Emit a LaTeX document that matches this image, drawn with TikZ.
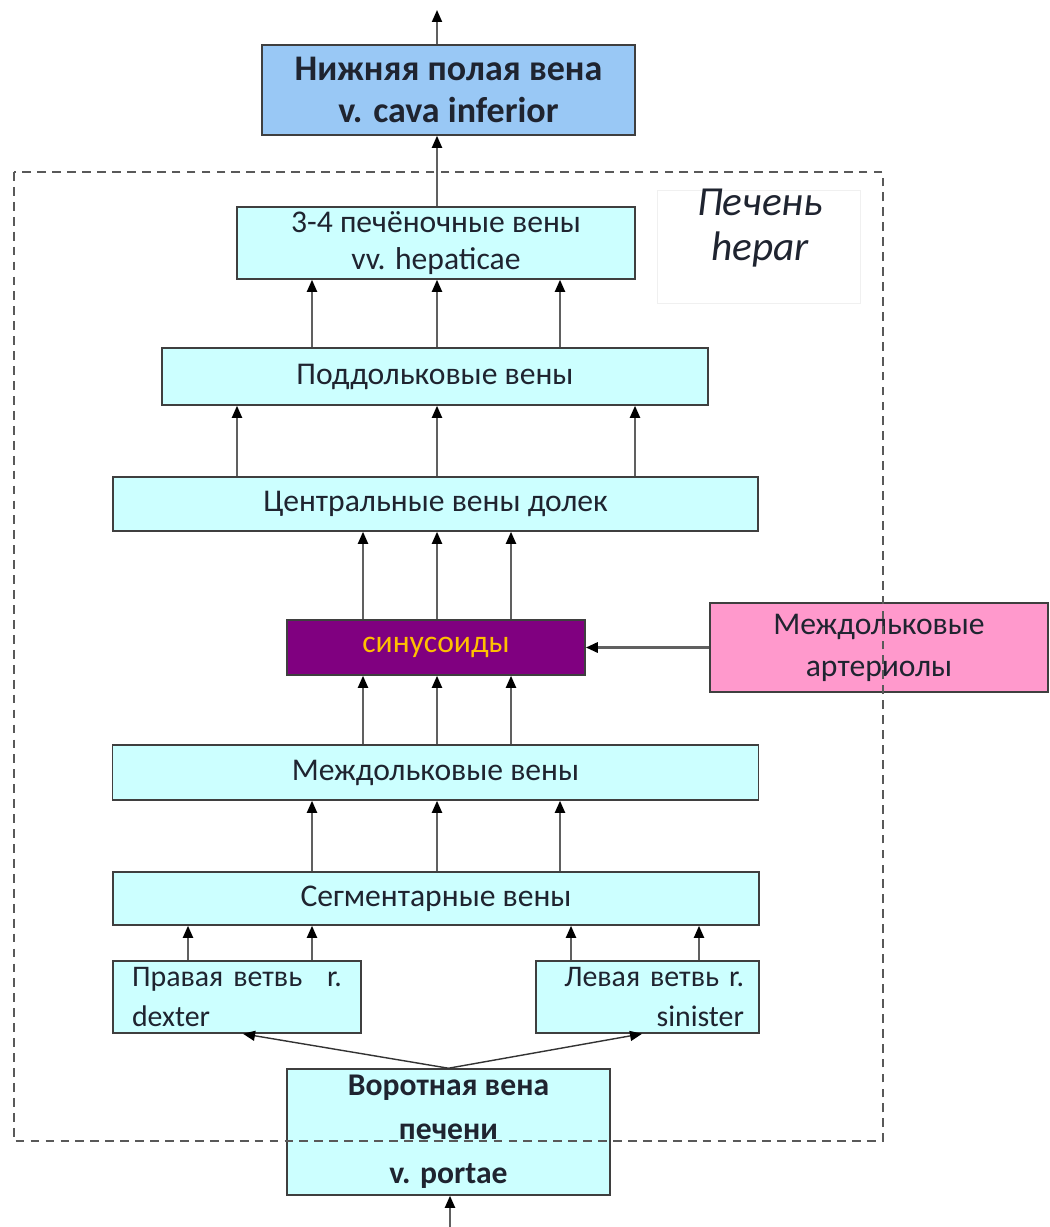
\documentclass[tikz,border=0pt]{standalone}
\usepackage{fontspec}
\setmainfont{Carlito}
\usetikzlibrary{arrows.meta}
\definecolor{boxcyan}{HTML}{CCFFFF}
\definecolor{boxblue}{HTML}{99C8F5}
\definecolor{boxpurple}{HTML}{800080}
\definecolor{boxpink}{HTML}{FF99CC}
\definecolor{sinustext}{HTML}{FFC000}
\definecolor{edge}{HTML}{3F3F3F}
\definecolor{txt}{HTML}{1F2430}
\tikzset{
  vbox/.style={draw=edge, line width=0.9pt, fill=boxcyan, inner sep=0pt,
    align=center, text=txt, font=\fontsize{18}{22}\selectfont},
  flow/.style={draw=gray!75!black, line width=1.1pt,
    -{Triangle[length=0.24cm,width=0.2cm,color=black]}},
  thinflow/.style={draw=black!80, line width=0.8pt,
    -{Triangle[length=0.24cm,width=0.2cm,color=black]}},
}
\begin{document}
\begin{tikzpicture}[x=0.02cm,y=-0.02cm]
\useasboundingbox (0,0) rectangle (1050,1227);

% column positions for the vertical connectors
\foreach \cx in {188,237,243,312,363,437,450,511,560,571,635,642,699}
  \coordinate (c\cx) at (\cx,0);

% boxes, from top to bottom
\node[vbox, fill=boxblue, minimum width=7.46cm, minimum height=1.8cm,
  font=\bfseries\fontsize{20.5}{24}\selectfont] (cava) at (448.5,90)
  {Нижняя полая вена\\v. cava inferior};
\node[vbox, minimum width=7.96cm, minimum height=1.44cm,
  font=\fontsize{18}{21}\selectfont] (hep) at (436,243)
  {3-4 печёночные вены\\vv. hepaticae};
\node[vbox, minimum width=10.92cm, minimum height=1.14cm] (podd) at (435,376.5)
  {Поддольковые вены};
\node[vbox, minimum width=12.9cm, minimum height=1.08cm] (centr) at (435.5,504)
  {Центральные вены долек};
\node[vbox, fill=boxpurple, text=sinustext, minimum width=5.96cm,
  minimum height=1.1cm] (sin) at (436,647.5) {синусоиды};
\node[vbox, fill=boxpink, text=txt, minimum width=6.76cm,
  minimum height=1.78cm, font=\fontsize{18}{24}\selectfont] (art) at (879,647.5)
  {Междольковые\\артериолы};
\node[vbox, minimum width=12.92cm, minimum height=1.1cm] (mezh) at (435.5,772.5)
  {Междольковые вены};
\node[vbox, minimum width=12.92cm, minimum height=1.06cm] (seg) at (436,898.5)
  {Сегментарные вены};
\node[vbox, minimum width=4.96cm, minimum height=1.44cm, align=left,
  text width=4.2cm, font=\fontsize{17}{23}\selectfont] (prav) at (237,997)
  {Правая ветвь\hfill r.\\dexter};
\node[vbox, minimum width=4.46cm, minimum height=1.44cm, align=right,
  text width=3.86cm, font=\fontsize{17}{23}\selectfont] (lev) at (647.5,997)
  {Левая ветвь r.\\sinister};
\node[vbox, minimum width=6.46cm, minimum height=2.52cm,
  font=\bfseries\fontsize{18}{25}\selectfont] (port) at (448.5,1132)
  {Воротная вена\\печени\\v. portae};

% liver label
\node[draw=gray!12, line width=0.4pt, minimum width=4.06cm, minimum height=2.26cm]
  (liverframe) at (758.5,246.5) {};
\node[align=center, text=txt, font=\itshape\fontsize{23.5}{25.5}\selectfont]
  (liver) at (760,228) {Печень\\hepar};

% connectors
\coordinate (outtop) at (437,10);
\coordinate (inbot) at (450,1227);
\draw[flow] (cava.north -| c437) -- (outtop);
\draw[flow] (hep.north -| c437) -- (cava.south -| c437);
\foreach \cx in {312,437,560}
  \draw[flow] (podd.north -| c\cx) -- (hep.south -| c\cx);
\foreach \cx in {237,437,635}
  \draw[flow] (centr.north -| c\cx) -- (podd.south -| c\cx);
\foreach \cx in {363,437,511}
  \draw[flow] (sin.north -| c\cx) -- (centr.south -| c\cx);
\foreach \cx in {363,437,511}
  \draw[flow] (mezh.north -| c\cx) -- (sin.south -| c\cx);
\foreach \cx in {312,437,560}
  \draw[flow] (seg.north -| c\cx) -- (mezh.south -| c\cx);
\foreach \cx in {188,312}
  \draw[flow] (prav.north -| c\cx) -- (seg.south -| c\cx);
\foreach \cx in {571,699}
  \draw[flow] (lev.north -| c\cx) -- (seg.south -| c\cx);
\draw[flow, line width=1.6pt] (art.west) -- (sin.east);
\draw[thinflow] (port.north) -- (prav.south -| c243);
\draw[thinflow] (port.north) -- (lev.south -| c642);
\draw[flow] (inbot) -- (port.south -| c450);

% boundary of the liver
\draw[dashed, draw=gray!70!black, line width=0.9pt, dash pattern=on 5pt off 3.5pt]
  (14,172) rectangle (883,1141);
\end{tikzpicture}
\end{document}
